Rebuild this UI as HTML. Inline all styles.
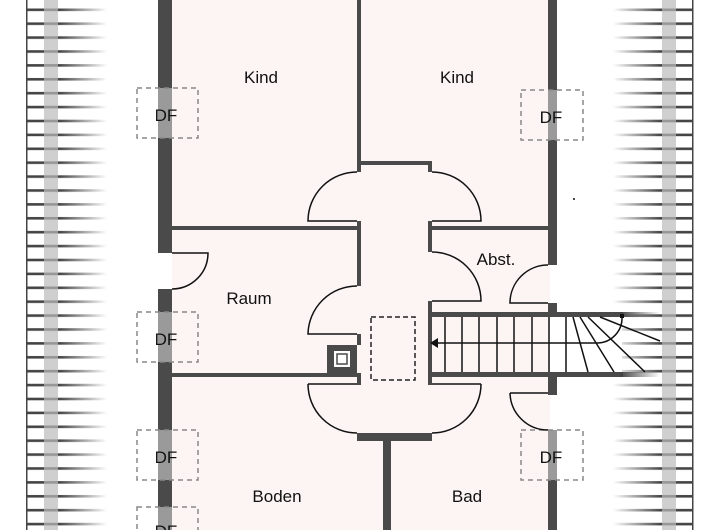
<!DOCTYPE html>
<html><head><meta charset="utf-8"><style>
html,body{margin:0;padding:0;background:#fff}
svg{display:block}
text{font-family:"Liberation Sans",sans-serif;font-size:17px;fill:#111}
</style></head><body>
<svg width="720" height="530" viewBox="0 0 720 530" xmlns="http://www.w3.org/2000/svg">
<defs>
<linearGradient id="gl" x1="0" x2="1" y1="0" y2="0">
<stop offset="0" stop-color="#444"/><stop offset="0.4" stop-color="#444"/><stop offset="1" stop-color="#444" stop-opacity="0"/></linearGradient>
<linearGradient id="gr" x1="1" x2="0" y1="0" y2="0">
<stop offset="0" stop-color="#444"/><stop offset="0.4" stop-color="#444"/><stop offset="1" stop-color="#444" stop-opacity="0"/></linearGradient>
<linearGradient id="sf" x1="0" x2="1"><stop offset="0" stop-color="#444"/><stop offset="1" stop-color="#444" stop-opacity="0"/></linearGradient>
<pattern id="hl" x="27" y="2.5" width="80" height="13.9" patternUnits="userSpaceOnUse">
<rect x="0" y="6" width="80" height="2.6" fill="url(#gl)"/></pattern>
<pattern id="hr" x="613" y="2.5" width="80" height="13.9" patternUnits="userSpaceOnUse">
<rect x="0" y="6" width="80" height="2.6" fill="url(#gr)"/></pattern>
</defs>
<!-- hatching -->
<rect x="27" y="0" width="80" height="530" fill="url(#hl)"/>
<rect x="44" y="0" width="14" height="530" fill="#bbb" opacity="0.7"/>
<rect x="26" y="0" width="1.5" height="530" fill="#444"/>
<rect x="613" y="0" width="80" height="530" fill="url(#hr)"/>
<rect x="662" y="0" width="14" height="530" fill="#bbb" opacity="0.7"/>
<rect x="692" y="0" width="1.5" height="530" fill="#444"/>
<!-- floor fill -->
<rect x="172" y="0" width="378" height="530" fill="#fdf5f4"/>
<rect x="432" y="316" width="190" height="56" fill="#fff"/>
<rect x="432" y="316" width="118" height="56" fill="#fdf5f4"/>
<g fill="#4a4a4a">
<rect x="158" y="0" width="14" height="253"/>
<rect x="158" y="289" width="14" height="241"/>
<rect x="548" y="0" width="9" height="265"/>
<rect x="548" y="303" width="9" height="10"/>
<rect x="548" y="372" width="9" height="23"/>
<rect x="548" y="430" width="9" height="100"/>
<rect x="357" y="0" width="4" height="172"/>
<rect x="357" y="161" width="75" height="4"/>
<rect x="428" y="161" width="4" height="11"/>
<rect x="172" y="226" width="189" height="4"/>
<rect x="428" y="226" width="120" height="4"/>
<rect x="357" y="221" width="4" height="65"/>
<rect x="428" y="221" width="4" height="31"/>
<rect x="428" y="301" width="4" height="76"/>
<rect x="428" y="312" width="195" height="5"/>
<rect x="428" y="372" width="195" height="5"/>
<rect x="357" y="334" width="4" height="11"/>
<rect x="172" y="373" width="189" height="4"/>
<rect x="327" y="345" width="30" height="32"/>
<rect x="357" y="377" width="4" height="8"/>
<rect x="428" y="377" width="4" height="8"/>
<rect x="357" y="433" width="75" height="8"/>
<rect x="383" y="441" width="8" height="89"/>
</g>
<rect x="620" y="312" width="40" height="5" fill="url(#sf)"/>
<rect x="620" y="372" width="40" height="5" fill="url(#sf)"/>
<rect x="334" y="351" width="16" height="16" fill="#fff"/>
<rect x="337" y="354" width="10" height="10" fill="none" stroke="#4a4a4a" stroke-width="1.5"/>
<g fill="#9a9a9a">
<rect x="158" y="88" width="14" height="50"/>
<rect x="158" y="312" width="14" height="50"/>
<rect x="158" y="430" width="14" height="50"/>
<rect x="158" y="507" width="14" height="23"/>
<rect x="548" y="90" width="9" height="50"/>
<rect x="548" y="430" width="9" height="50"/>
</g>
<g fill="none" stroke="#888" stroke-width="1.5" stroke-dasharray="5,4">
<rect x="137" y="88" width="61" height="50"/>
<rect x="137" y="312" width="61" height="50"/>
<rect x="137" y="430" width="61" height="50"/>
<rect x="137" y="507" width="61" height="40"/>
<rect x="521" y="90" width="62" height="50"/>
<rect x="521" y="430" width="62" height="50"/>
</g>
<rect x="371" y="317" width="44" height="63" fill="none" stroke="#222" stroke-width="1.5" stroke-dasharray="5,3"/>
<g fill="none" stroke="#111" stroke-width="1.5">
<path d="M357 172 A49 49 0 0 0 308 221 H357"/>
<path d="M432 172 A49 49 0 0 1 481 221 H432"/>
<path d="M357 286 A49 49 0 0 0 308 334 H357"/>
<path d="M432 252 A49 49 0 0 1 481 301 H432"/>
<path d="M308 384 H357 M308 384 A49 49 0 0 0 357 433"/>
<path d="M481 384 H432 M481 384 A49 49 0 0 1 432 433"/>
<path d="M172 253 H208 A36 36 0 0 1 172 289"/>
<path d="M548 265 A38 38 0 0 0 510 303 H548"/>
<path d="M510 393 H548 M510 393 A38 38 0 0 0 548 430"/>
</g>
<g stroke="#111" stroke-width="1.5" fill="none">
<path d="M432 343 H597"/>
<path d="M445 317V372 M462 317V372 M479 317V372 M497 317V372 M514 317V372 M532 317V372 M549 317V372 M566 317V372"/>
<path d="M573 317 L588 372 M580 317 L614 372 M588 317 L645 372 M600 317 L660 341"/>
<path d="M597 343 A25 25 0 0 0 622 317"/>
</g>
<path d="M430 343 L438 338 L438 348 Z" fill="#111"/>
<rect x="620" y="314" width="4" height="4" fill="#111"/>
<circle cx="574" cy="199" r="1" fill="#111"/>
<text x="261" y="83" text-anchor="middle">Kind</text>
<text x="457" y="83" text-anchor="middle">Kind</text>
<text x="496" y="265" text-anchor="middle">Abst.</text>
<text x="249" y="304" text-anchor="middle">Raum</text>
<text x="277" y="502" text-anchor="middle">Boden</text>
<text x="467" y="502" text-anchor="middle">Bad</text>
<text x="166" y="121" text-anchor="middle">DF</text>
<text x="166" y="345" text-anchor="middle">DF</text>
<text x="166" y="463" text-anchor="middle">DF</text>
<text x="166" y="537" text-anchor="middle">DF</text>
<text x="551" y="123" text-anchor="middle">DF</text>
<text x="551" y="463" text-anchor="middle">DF</text>
</svg>
</body></html>
